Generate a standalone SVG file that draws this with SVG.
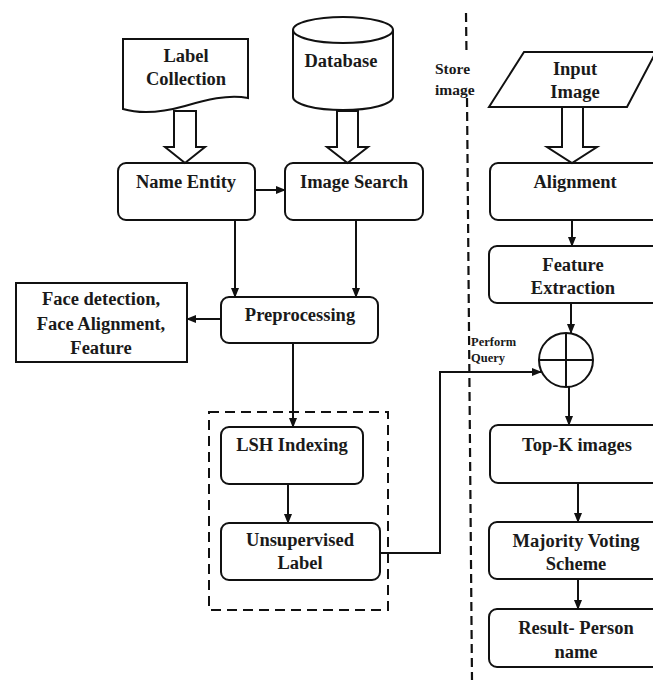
<svg xmlns="http://www.w3.org/2000/svg" width="653" height="682" viewBox="0 0 653 682">
<style>
.box{fill:#fff;stroke:#111;stroke-width:2}
.t{font-family:"Liberation Serif","Times New Roman",serif;font-weight:bold;font-size:18.5px;fill:#1a1a1a;text-anchor:middle}
.s{font-family:"Liberation Serif","Times New Roman",serif;font-weight:bold;font-size:15.5px;fill:#1a1a1a}
.c{fill:none;stroke:#111;stroke-width:2}
.blk{fill:#fff;stroke:#111;stroke-width:2;stroke-linejoin:miter}
.dash{fill:none;stroke:#111;stroke-width:2.2;stroke-dasharray:9 5}
</style>
<defs>
<marker id="ah" markerUnits="userSpaceOnUse" markerWidth="10" markerHeight="8" refX="9" refY="4" orient="auto">
<path d="M0,0 L10,4 L0,8 Z" fill="#111"/>
</marker>
</defs>
<rect width="653" height="682" fill="#fff"/>

<g id="separator">
<line class="dash" x1="466" y1="13" x2="466.5" y2="55"/>
<line class="dash" x1="467" y1="98" x2="472" y2="680"/>
</g>

<g id="label-collection">
<path class="box" d="M123,39 H248 V98 C228,94 205,100 185,106 C160,113 140,114 123,109 Z"/>
<text class="t" x="186" y="62">Label</text>
<text class="t" x="186" y="85">Collection</text>
</g>

<g id="database">
<path class="box" d="M293,30 V97 A50,13 0 0 0 393,97 V30"/>
<ellipse class="box" cx="343" cy="30" rx="50" ry="13"/>
<text class="t" x="341" y="67">Database</text>
</g>

<g id="input-image">
<polygon class="box" points="524,52 656,52 627,107 489,107"/>
<text class="t" x="575" y="75">Input</text>
<text class="t" x="575" y="98">Image</text>
</g>

<g id="store-image-label">
<text class="s" x="435" y="74">Store</text>
<text class="s" x="435" y="95">image</text>
</g>

<g id="name-entity">
<rect class="box" x="118" y="163" width="137" height="57" rx="8"/>
<text class="t" x="186" y="188">Name Entity</text>
</g>

<g id="image-search">
<rect class="box" x="285" y="163" width="138" height="57" rx="8"/>
<text class="t" x="354" y="188">Image Search</text>
</g>

<g id="preprocessing">
<rect class="box" x="221" y="297" width="157" height="46" rx="8"/>
<text class="t" x="300" y="321">Preprocessing</text>
</g>

<g id="face-detection">
<rect class="box" x="16" y="283" width="171" height="79"/>
<text class="t" x="101" y="305">Face detection,</text>
<text class="t" x="101" y="330">Face Alignment,</text>
<text class="t" x="101" y="354">Feature</text>
</g>

<g id="lsh-group">
<rect x="209" y="412" width="179" height="198" fill="none" stroke="#111" stroke-width="2" stroke-dasharray="10 6"/>
</g>

<g id="lsh-indexing">
<rect class="box" x="221" y="427" width="142" height="57" rx="8"/>
<text class="t" x="292" y="451">LSH Indexing</text>
</g>

<g id="unsupervised-label">
<rect class="box" x="221" y="523" width="159" height="57" rx="8"/>
<text class="t" x="300" y="546">Unsupervised</text>
<text class="t" x="300" y="569">Label</text>
</g>

<g id="alignment">
<rect class="box" x="490" y="163" width="180" height="57" rx="8"/>
<text class="t" x="575" y="188">Alignment</text>
</g>

<g id="feature-extraction">
<rect class="box" x="489" y="246" width="180" height="57" rx="8"/>
<text class="t" x="573" y="271">Feature</text>
<text class="t" x="573" y="294">Extraction</text>
</g>

<g id="combine">
<circle class="box" cx="566" cy="360" r="27"/>
<line class="c" x1="539" y1="360" x2="593" y2="360"/>
<line class="c" x1="566" y1="333" x2="566" y2="387"/>
</g>

<g id="perform-query-label">
<text class="s" x="471" y="346" style="font-size:12.5px">Perform</text>
<text class="s" x="471" y="362" style="font-size:12.5px">Query</text>
</g>

<g id="top-k">
<rect class="box" x="490" y="425" width="180" height="58" rx="8"/>
<text class="t" x="577" y="451">Top-K images</text>
</g>

<g id="majority-voting">
<rect class="box" x="489" y="522" width="180" height="57" rx="8"/>
<text class="t" x="576" y="547">Majority Voting</text>
<text class="t" x="576" y="570">Scheme</text>
</g>

<g id="result">
<rect class="box" x="489" y="609" width="180" height="58" rx="8"/>
<text class="t" x="576" y="634">Result- Person</text>
<text class="t" x="576" y="658">name</text>
</g>

<g id="connectors">
<polygon class="blk" points="174,111 196,111 196,147 205,147 185,163 165,147 174,147"/>
<polygon class="blk" points="337,111 358,111 358,147 368,147 347.5,163 327,147 337,147"/>
<polygon class="blk" points="562,107 583,107 583,147 597,147 572,163 547,147 562,147"/>
<line class="c" x1="255" y1="190" x2="285" y2="190" marker-end="url(#ah)"/>
<line class="c" x1="235" y1="220" x2="235" y2="297" marker-end="url(#ah)"/>
<line class="c" x1="356" y1="220" x2="356" y2="297" marker-end="url(#ah)"/>
<line class="c" x1="221" y1="319" x2="187" y2="319" marker-end="url(#ah)"/>
<line class="c" x1="293" y1="343" x2="293" y2="427" marker-end="url(#ah)"/>
<line class="c" x1="288" y1="484" x2="288" y2="523" marker-end="url(#ah)"/>
<polyline class="c" points="380,553 440,553 440,372 541,372" marker-end="url(#ah)"/>
<line class="c" x1="572" y1="220" x2="572" y2="246" marker-end="url(#ah)"/>
<line class="c" x1="571" y1="303" x2="571" y2="333" marker-end="url(#ah)"/>
<line class="c" x1="569" y1="387" x2="569" y2="425" marker-end="url(#ah)"/>
<line class="c" x1="578" y1="483" x2="578" y2="522" marker-end="url(#ah)"/>
<line class="c" x1="578" y1="579" x2="578" y2="609" marker-end="url(#ah)"/>
</g>
</svg>
